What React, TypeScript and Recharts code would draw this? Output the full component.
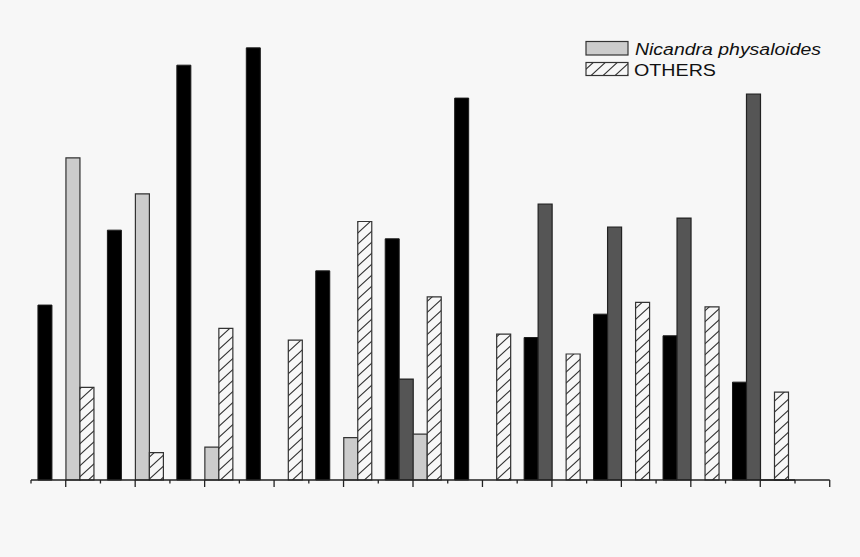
import { BarChart, Bar, XAxis, YAxis, Legend } from 'recharts';

// 11 sites, 4 series per site (two of them have no legend entry in the source)
const SITES = ['1', '2', '3', '4', '5', '6', '7', '8', '9', '10', '11'];
const SERIES_A = [40.4, 57.7, 95.8, 99.8, 48.3, 55.7, 88.2, 32.9, 38.3, 33.3, 22.6];
const SERIES_B = [null, null, null, null, null, 23.3, null, 63.7, 58.4, 60.5, 89.1];
const NICANDRA = [74.4, 66.1, 7.6, null, 9.8, 10.6, null, null, null, null, null];
const OTHERS = [21.4, 6.3, 35.0, 32.3, 59.7, 42.3, 33.7, 29.1, 41.0, 40.0, 20.3];

const LEGEND_LABELS = ['Nicandra physaloides', 'OTHERS'];

const data = SITES.map((s, i) => ({
  site: s,
  a: SERIES_A[i],
  b: SERIES_B[i],
  nicandra: NICANDRA[i],
  others: OTHERS[i],
}));

const W = 860;
const H = 557;
const MARGIN = { top: 47, right: 65, bottom: 47, left: 31 };
const BAND = (W - MARGIN.left - MARGIN.right) / SITES.length;
const AXIS = '#222';

function AxisTick(props: any) {
  const { x, y, index } = props;
  const last = index === SITES.length - 1;
  return (
    <g stroke={AXIS} strokeWidth={1.3}>
      <line x1={x - BAND / 2} y1={y} x2={x - BAND / 2} y2={y + 3.5} />
      <line x1={x} y1={y} x2={x} y2={y + 7} />
      {last && (
        <>
          <line x1={x} y1={y} x2={x + BAND} y2={y} />
          <line x1={x + BAND / 2} y1={y} x2={x + BAND / 2} y2={y + 3.5} />
          <line x1={x + BAND} y1={y} x2={x + BAND} y2={y + 7} />
        </>
      )}
    </g>
  );
}

function LegendBox() {
  return (
    <svg width={260} height={45} style={{ display: 'block' }}>
      <rect x={2} y={3.5} width={42} height={13.5} fill="#cccccc" stroke="#333" strokeWidth={1.2} />
      <text
        x={51}
        y={17}
        fontFamily="'Liberation Sans', Arial, sans-serif"
        fontSize={16}
        fontStyle="italic"
        fill="#111"
        textLength={186}
        lengthAdjust="spacingAndGlyphs"
      >
        {LEGEND_LABELS[0]}
      </text>
      <rect x={2} y={24.5} width={42} height={13} fill="url(#hatch)" stroke="#333" strokeWidth={1.2} />
      <text
        x={50}
        y={37.5}
        fontFamily="'Liberation Sans', Arial, sans-serif"
        fontSize={16}
        fill="#111"
        textLength={82}
        lengthAdjust="spacingAndGlyphs"
      >
        {LEGEND_LABELS[1]}
      </text>
    </svg>
  );
}

export default function App() {
  return (
    <div
      style={{
        position: 'absolute',
        left: 0,
        top: 0,
        width: W,
        height: H,
        background: '#f7f7f7',
      }}
    >
      <BarChart width={W} height={H} data={data} margin={MARGIN} barCategoryGap="10%" barGap={0}>
        <defs>
          <pattern id="hatch" patternUnits="userSpaceOnUse" width={12} height={11}>
            <rect width={12} height={11} fill="#f7f7f7" />
            <path d="M-3,2.75 L3,-2.75 M0,11 L12,0 M9,13.75 L15,8.25" stroke="#333" strokeWidth={1.1} />
          </pattern>
        </defs>
        <XAxis
          dataKey="site"
          height={30}
          interval={0}
          tickLine={false}
          tickSize={0}
          tickMargin={0}
          axisLine={{ stroke: AXIS, strokeWidth: 1.3 }}
          tick={<AxisTick />}
        />
        <YAxis
          width={0}
          domain={[0, 100]}
          tick={false}
          tickLine={false}
          axisLine={{ stroke: AXIS, strokeWidth: 1.3 }}
        />
        <Legend
          layout="vertical"
          align="center"
          verticalAlign="middle"
          content={<LegendBox />}
          wrapperStyle={{ left: 584, top: 38, width: 260, height: 45 }}
        />
        <Bar dataKey="a" fill="#000" stroke="#1a1a1a" strokeWidth={1} isAnimationActive={false} />
        <Bar dataKey="b" fill="#555" stroke="#222" strokeWidth={1.2} isAnimationActive={false} />
        <Bar dataKey="nicandra" fill="#cccccc" stroke="#333" strokeWidth={1.2} isAnimationActive={false} />
        <Bar dataKey="others" fill="url(#hatch)" stroke="#333" strokeWidth={1.2} isAnimationActive={false} />
      </BarChart>
    </div>
  );
}
